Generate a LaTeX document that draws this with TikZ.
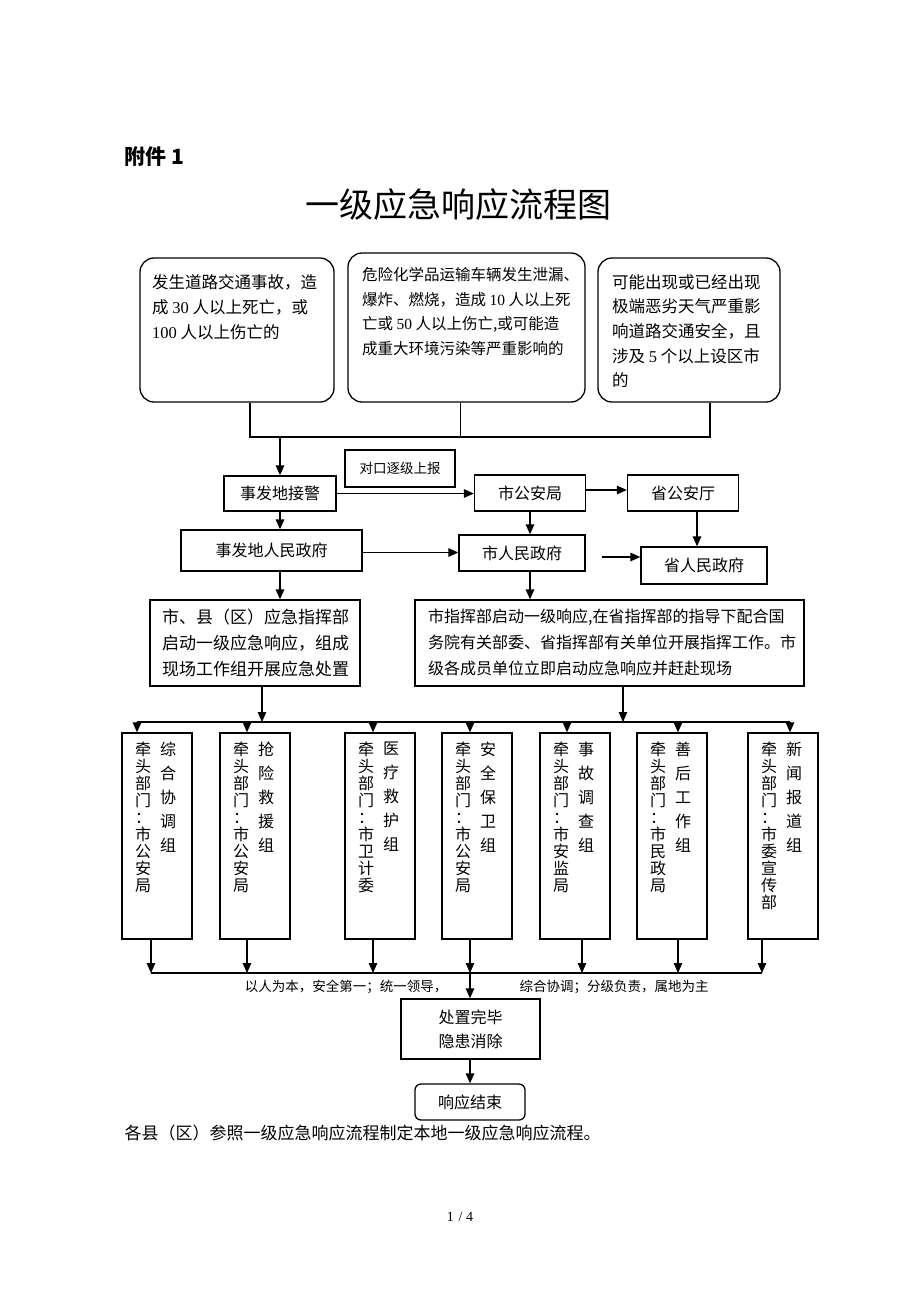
\documentclass[tikz,border=0pt]{standalone}
\usepackage{fontspec}
\setmainfont{Noto Sans CJK SC}
\newfontfamily\latin{Liberation Serif}
\usetikzlibrary{arrows.meta, positioning}

\begin{document}
\begin{tikzpicture}[x=1pt, y=-1pt, font=\fontsize{16}{16}\selectfont,
	flowline/.style={line width=1.3pt},
	flowarrow/.style={flowline, -{Triangle[length=10pt,width=8.5pt]}},
	flowbox/.style={draw, flowline, inner sep=0pt},
	roundbox/.style={flowbox, rounded corners=14pt},
	boxtext/.style={inner sep=0pt, align=left, anchor=north west},
	leadtext/.style={inner sep=0pt, align=center, anchor=north, font=\fontsize{16}{17}\selectfont},
	grptext/.style={inner sep=0pt, align=center, anchor=north, font=\fontsize{16}{24}\selectfont}]
	
	\useasboundingbox (0,0) rectangle (920,1302);
	
	% --- HEADING ---
	\node[anchor=west, font=\fontsize{21}{21}\selectfont\bfseries] (annex) at (121,157) {附件 1};
	\node[font=\fontsize{34}{34}\selectfont] (title) at (458,205) {一级应急响应流程图};
	
	% --- TRIGGER CONDITIONS ---
	\node[roundbox, minimum width=194, minimum height=144] (src1) at (237,330) {};
	\node[boxtext, font=\fontsize{16.5}{25}\selectfont] (src1txt) at (152,274) {发生道路交通事故，造\\成 {\latin 30} 人以上死亡，或\\{\latin 100} 人以上伤亡的};
	
	\node[roundbox, minimum width=237, minimum height=149] (src2) at (466.5,327.5) {};
	\node[boxtext, font=\fontsize{15.5}{24.7}\selectfont] (src2txt) at (362,267) {危险化学品运输车辆发生泄漏、\\爆炸、燃烧，造成 {\latin 10} 人以上死\\亡或 {\latin 50} 人以上伤亡,或可能造\\成重大环境污染等严重影响的};
	
	\node[roundbox, minimum width=182, minimum height=144] (src3) at (689,330) {};
	\node[boxtext, font=\fontsize{16.5}{24.7}\selectfont] (src3txt) at (612,274) {可能出现或已经出现\\极端恶劣天气严重影\\响道路交通安全，且\\涉及 {\latin 5} 个以上设区市\\的};
	
	\coordinate (bus1) at (0,437);
	\draw[flowline] ([xshift=13]src1.south) -- ([xshift=13]src1.south |- bus1) -- ([xshift=21]src3.south |- bus1) -- ([xshift=21]src3.south);
	\draw[flowline] ([xshift=-6]src2.south) -- ([xshift=-6]src2.south |- bus1);
	
	% --- REPORTING CHAIN ---
	\node[flowbox, minimum width=110, minimum height=37, font=\fontsize{13.5}{13.5}\selectfont] (duikou) at (400,468.5) {对口逐级上报};
	\node[flowbox, minimum width=112, minimum height=35] (jiejing) at (280,493.5) {事发地接警};
	\node[flowbox, minimum width=111, minimum height=36] (shigongan) at (530,493) {市公安局};
	\node[flowbox, minimum width=111, minimum height=36] (shenggongan) at (683,493) {省公安厅};
	\node[flowbox, minimum width=181, minimum height=41] (difangzf) at (271.5,550.5) {事发地人民政府};
	\node[flowbox, minimum width=126, minimum height=36] (shizf) at (522,553) {市人民政府};
	\node[flowbox, minimum width=126, minimum height=37] (shengzf) at (704,565.5) {省人民政府};
	
	\draw[flowarrow] (jiejing.north |- bus1) -- (jiejing.north);
	\draw[flowarrow] (jiejing.east) -- (jiejing.east -| shigongan.west);
	\draw[flowarrow] ([yshift=3]shigongan.east) -- ([yshift=3]shenggongan.west);
	\draw[flowarrow] (jiejing.south) -- (jiejing.south |- difangzf.north);
	\draw[flowarrow] (shigongan.south) -- (shigongan.south |- shizf.north);
	\draw[flowarrow] ([xshift=14]shenggongan.south) -- ([xshift=14]shenggongan.south |- shengzf.north);
	\draw[flowarrow] ([yshift=-2]difangzf.east) -- ([yshift=-2]difangzf.east -| shizf.west);
	\coordinate (gap) at ([xshift=16,yshift=-4]shizf.east);
	\draw[flowarrow] (gap) -- (gap -| shengzf.west);
	
	% --- COMMAND CENTRES ---
	\node[flowbox, minimum width=210, minimum height=86] (cmdL) at (255,643) {};
	\node[boxtext, font=\fontsize{17}{26}\selectfont] (cmdLtxt) at (162,609) {市、县（区）应急指挥部\\启动一级应急响应，组成\\现场工作组开展应急处置};
	\node[flowbox, minimum width=389, minimum height=86] (cmdR) at (609.5,643) {};
	\node[boxtext, font=\fontsize{16}{26}\selectfont] (cmdRtxt) at (428,609) {市指挥部启动一级响应,在省指挥部的指导下配合国\\务院有关部委、省指挥部有关单位开展指挥工作。市\\级各成员单位立即启动应急响应并赶赴现场};
	
	\draw[flowarrow] (jiejing.south |- difangzf.south) -- (jiejing.south |- cmdL.north);
	\draw[flowarrow] (shigongan.south |- shizf.south) -- (shigongan.south |- cmdR.north);
	
	% --- WORKING GROUPS ---
	\foreach \i/\cx/\ax/\bx/\grp/\lead in {
		1/157/137/151/{综\\合\\协\\调\\组}/{牵\\头\\部\\门\\：\\市\\公\\安\\局},
		2/255/247/247/{抢\\险\\救\\援\\组}/{牵\\头\\部\\门\\：\\市\\公\\安\\局},
		3/380/373/373/{医\\疗\\救\\护\\组}/{牵\\头\\部\\门\\：\\市\\卫\\计\\委},
		4/477/470/470/{安\\全\\保\\卫\\组}/{牵\\头\\部\\门\\：\\市\\公\\安\\局},
		5/575/567/582/{事\\故\\调\\查\\组}/{牵\\头\\部\\门\\：\\市\\安\\监\\局},
		6/672/678/678/{善\\后\\工\\作\\组}/{牵\\头\\部\\门\\：\\市\\民\\政\\局},
		7/783/790/762/{新\\闻\\报\\道\\组}/{牵\\头\\部\\门\\：\\市\\委\\宣\\传\\部}}{
		\node[flowbox, minimum width=70, minimum height=206] (grp\i) at (\cx,836) {};
		\node[leadtext] (lead\i) at ([xshift=-14,yshift=-9]grp\i.north) {\lead};
		\node[grptext] (name\i) at ([xshift=11,yshift=-9]grp\i.north) {\grp};
		\coordinate (in\i) at (\ax,722);
		\coordinate (out\i) at (\bx,973);
		\draw[flowarrow] (in\i) -- (in\i |- grp\i.north);
		\draw[flowarrow] (out\i |- grp\i.south) -- (out\i);
	}
	\draw[flowline] (in1) -- (in7);
	\draw[flowline] (out1) -- (out7);
	\draw[flowarrow] ([xshift=7]cmdL.south) -- ([xshift=7]cmdL.south |- in1);
	\draw[flowarrow] ([xshift=13.5]cmdR.south) -- ([xshift=13.5]cmdR.south |- in1);
	
	% --- CLOSING ---
	\node[font=\fontsize{13.5}{13.5}\selectfont] (principle1) at (346,987) {以人为本，安全第一；统一领导，};
	\node[font=\fontsize{13.5}{13.5}\selectfont] (principle2) at (614,987) {综合协调；分级负责，属地为主};
	
	\node[flowbox, minimum width=139, minimum height=60, align=center, font=\fontsize{16}{24}\selectfont] (chuzhi) at (470.5,1029) {处置完毕\\隐患消除};
	\node[flowbox, rounded corners=6pt, minimum width=110, minimum height=36] (jieshu) at (470,1102) {响应结束};
	
	\draw[flowarrow] (out4) -- (out4 |- chuzhi.north);
	\draw[flowarrow] (chuzhi.south -| out4) -- (out4 |- jieshu.north);
	
	\node[anchor=west, font=\fontsize{17}{17}\selectfont] (note) at (121,1133) {各县（区）参照一级应急响应流程制定本地一级应急响应流程。};
	\node[font=\latin\fontsize{14}{14}\selectfont] (pageno) at (460,1217) {1\,\,/ 4};
	
\end{tikzpicture}
\end{document}
